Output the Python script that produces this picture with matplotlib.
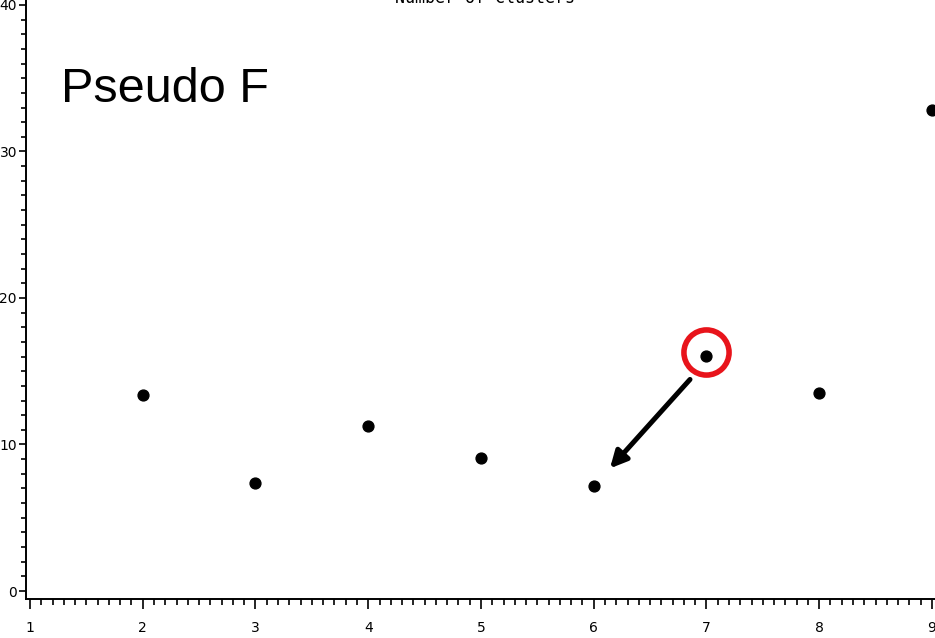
import matplotlib
matplotlib.use('Agg')
import matplotlib.pyplot as plt
from matplotlib.font_manager import FontProperties
from matplotlib.ticker import MultipleLocator

# 聚类数与对应的 Pseudo F 统计量
clusters = [2, 3, 4, 5, 6, 7, 8, 9]
pseudo_f = [13.38, 7.37, 11.26, 9.08, 7.17, 16.04, 13.52, 32.83]
x_ticks = [1, 2, 3, 4, 5, 6, 7, 8, 9]
y_ticks = [0, 10, 20, 30, 40]

fig = plt.figure(figsize=(9.35, 6.38), dpi=100)
ax = fig.add_axes([26 / 935, 39 / 638, 909 / 935, 599 / 638])

# 散点
ax.plot(clusters, pseudo_f, 'o', color='black', markersize=7.8, clip_on=False)

ax.set_xlim(0.9645, 9.027)
ax.set_ylim(-0.546, 40.34)

ax.set_xticks(x_ticks)
ax.set_yticks(y_ticks)
ax.xaxis.set_minor_locator(MultipleLocator(0.1))
ax.yaxis.set_minor_locator(MultipleLocator(1))

for side in ['top', 'right']:
    ax.spines[side].set_visible(False)
for side in ['left', 'bottom']:
    ax.spines[side].set_linewidth(1.4)

ax.tick_params(axis='x', which='major', direction='out', length=7, width=1.2, pad=9)
ax.tick_params(axis='x', which='minor', direction='out', length=4, width=1.2)
ax.tick_params(axis='y', which='major', direction='out', length=5, width=1.2, pad=1.5)
ax.tick_params(axis='y', which='minor', direction='out', length=3.5, width=1.2)
tick_font = FontProperties(family='DejaVu Sans', size=10)
for lab in ax.get_xticklabels() + ax.get_yticklabels():
    lab.set_fontproperties(tick_font)

# 横轴标题（位于图的上沿）
fig.text(0.519, 1.0 - 7 / 638, 'Number of Clusters', ha='center', va='bottom',
         family='DejaVu Sans Mono', fontsize=12)

ax.text(0.038, 0.85, 'Pseudo F', transform=ax.transAxes, fontsize=35,
        family='Liberation Sans', ha='left', va='center')

# 标出 7 类的点，箭头指向 6 类
i7 = clusters.index(7)
i6 = clusters.index(6)
ax.plot(clusters[i7], pseudo_f[i7] + 0.3, 'o', markersize=32.5, markerfacecolor='none',
        markeredgecolor='#e8141b', markeredgewidth=4)
ax.annotate('', xy=(clusters[i6] + 0.144, pseudo_f[i6] + 1.2),
            xytext=(clusters[i7] - 0.146, pseudo_f[i7] - 1.6),
            arrowprops=dict(arrowstyle='-|>,head_length=1.0,head_width=0.5',
                            color='black', lw=3.6, shrinkA=0, shrinkB=0))

fig.savefig('out.png', dpi=100)
